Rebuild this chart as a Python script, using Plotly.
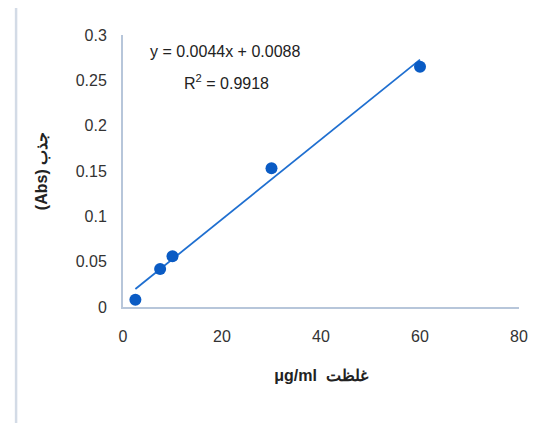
import plotly.graph_objects as go
import numpy as np

# Data
concentration = [2.5, 7.5, 10, 30, 60]
absorbance = [0.008, 0.042, 0.056, 0.153, 0.265]
slope = 0.0044
intercept = 0.0088
r_squared = 0.9918
x_ticks = [0, 20, 40, 60, 80]
y_ticks = [0, 0.05, 0.1, 0.15, 0.2, 0.25, 0.3]
y_tick_labels = ["0", "0.05", "0.1", "0.15", "0.2", "0.25", "0.3"]

xs = np.array([min(concentration), max(concentration)])
trend = slope * xs + intercept

font_family = "Liberation Sans Narrow, Liberation Sans, Arial, sans-serif"
blue = "#0a5bc4"

fig = go.Figure()
fig.add_trace(go.Scatter(x=xs, y=trend, mode="lines",
                         line=dict(color="#1f6fd0", width=1.8),
                         hoverinfo="skip", showlegend=False))
fig.add_trace(go.Scatter(x=concentration, y=absorbance, mode="markers",
                         marker=dict(color=blue, size=12),
                         showlegend=False))

fig.add_annotation(x=0.258, y=0.938, xref="paper", yref="paper",
                   text=f"y = {slope}x + {intercept}", showarrow=False,
                   font=dict(family=font_family, size=16, color="#222222"),
                   xanchor="center", yanchor="middle")
fig.add_annotation(x=0.262, y=0.828, xref="paper", yref="paper",
                   text=f"R<sup>2</sup> = {r_squared}", showarrow=False,
                   font=dict(family=font_family, size=16, color="#222222"),
                   xanchor="center", yanchor="middle")

# outer chart border (partially cropped)
fig.add_shape(type="rect", xref="paper", yref="paper",
              x0=-0.27, x1=1.3, y0=-0.6, y1=1.106,
              line=dict(color="#d3dbe6", width=2.5), layer="below")

fig.update_layout(
    width=547, height=423,
    margin=dict(l=115, r=36, t=27, b=124),
    paper_bgcolor="white", plot_bgcolor="white",
    font=dict(family=font_family, size=16, color="#333333"),
    xaxis=dict(range=[0, 80], tickvals=x_ticks, showgrid=False, zeroline=False,
               showline=True, linecolor="#b7c6da", linewidth=2,
               ticks="outside", ticklen=14, tickcolor="rgba(0,0,0,0)",
               tickfont=dict(size=16, color="#333333"),
               title=dict(text="<b>μg/ml  غلظت</b>", font=dict(size=16, color="#222222"),
                          standoff=26)),
    yaxis=dict(range=[0, 0.3], tickvals=y_ticks, ticktext=y_tick_labels,
               showgrid=False, zeroline=False,
               showline=True, linecolor="#b7c6da", linewidth=2,
               ticks="outside", ticklen=11, tickcolor="rgba(0,0,0,0)",
               tickfont=dict(size=16, color="#333333"),
               title=dict(text="<b>(Abs) جذب</b>", font=dict(size=16, color="#222222"),
                          standoff=24)),
)

fig.write_html("out.html")
